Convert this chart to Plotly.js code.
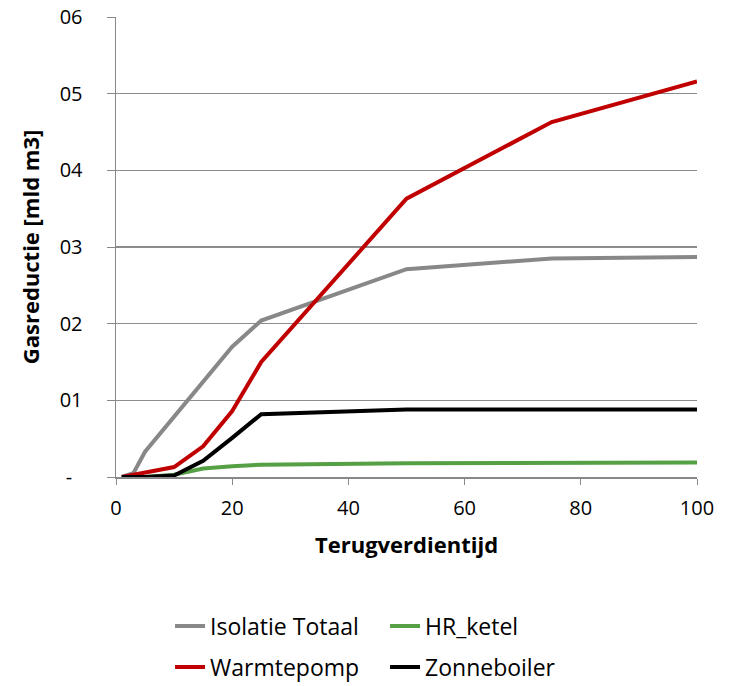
<!DOCTYPE html>
<html>
<head>
<meta charset="utf-8">
<script src="https://cdn.plot.ly/plotly-3.0.1.min.js"></script>
<style>html,body{margin:0;padding:0;background:#fff}#chart{width:732px;height:686px}</style>
</head>
<body>
<div id="chart"></div>
<script>
// Terugverdientijd (x) and gas reduction in mld m3 (y)
var years = [1, 3, 5, 10, 15, 20, 25, 50, 75, 100];
var isolatieTotaal = [0, 0.005, 0.033, 0.078, 0.125, 0.170, 0.204, 0.271, 0.285, 0.287];
var hrKetel = [0, 0, 0, 0.003, 0.011, 0.014, 0.016, 0.018, 0.018, 0.019];
var warmtepomp = [0, 0.003, 0.006, 0.013, 0.040, 0.086, 0.150, 0.363, 0.463, 0.516];
var zonneboiler = [0, 0, 0, 0.002, 0.021, 0.051, 0.082, 0.088, 0.088, 0.088];

var seriesNames = ["Isolatie Totaal", "HR_ketel", "Warmtepomp", "Zonneboiler"];
var yTickVals = [0, 0.1, 0.2, 0.3, 0.4, 0.5, 0.6];
var yTickText = ["-\u00a0\u00a0", "01", "02", "03", "04", "05", "06"];
var xTickVals = [0, 20, 40, 60, 80, 100];

var font = "'Open Sans', Lato, 'Liberation Sans', sans-serif";

function tr(y, name, color, legendId) {
  return {x: years, y: y, name: name, type: "scatter", mode: "lines",
          legend: legendId, line: {color: color, width: 4}};
}
var data = [
  tr(isolatieTotaal, seriesNames[0], "#888888", "legend"),
  tr(hrKetel, seriesNames[1], "#55a044", "legend"),
  tr(warmtepomp, seriesNames[2], "#c00000", "legend2"),
  tr(zonneboiler, seriesNames[3], "#000000", "legend2")
];

function leg(y) {
  return {orientation: "h", x: 0.093, xanchor: "left", y: y, yanchor: "middle",
          entrywidth: 170, entrywidthmode: "pixels", font: {size: 23},
          traceorder: "normal", itemwidth: 30, bgcolor: "rgba(0,0,0,0)"};
}

var layout = {
  width: 732, height: 686,
  margin: {l: 116, r: 35, t: 17, b: 209, autoexpand: false},
  paper_bgcolor: "#fff", plot_bgcolor: "#fff",
  font: {family: font, size: 20, color: "#000"},
  showlegend: true,
  legend: leg(-0.324),
  legend2: leg(-0.413),
  xaxis: {range: [0, 100], tickvals: xTickVals, ticks: "outside", ticklen: 6,
          tickcolor: "#888", showline: true, linecolor: "#888", linewidth: 1.5,
          showgrid: false, zeroline: false, tickfont: {size: 20}, ticklabelstandoff: 6,
          title: {text: "<b>Terugverdientijd</b>", font: {size: 22}, standoff: 18}},
  yaxis: {range: [0, 0.6], tickvals: yTickVals, ticktext: yTickText, ticks: "outside",
          ticklen: 8, tickcolor: "#888", showline: true, linecolor: "#888", linewidth: 1.5,
          showgrid: true, gridcolor: "#8c8c8c", gridwidth: 1.5, zeroline: false,
          tickfont: {size: 20}, ticklabelstandoff: 20,
          title: {text: "<b>Gasreductie [mld m3]</b>", font: {size: 22}, standoff: 14}}
};

Plotly.newPlot("chart", data, layout, {displayModeBar: false, staticPlot: true});
</script>
</body>
</html>
